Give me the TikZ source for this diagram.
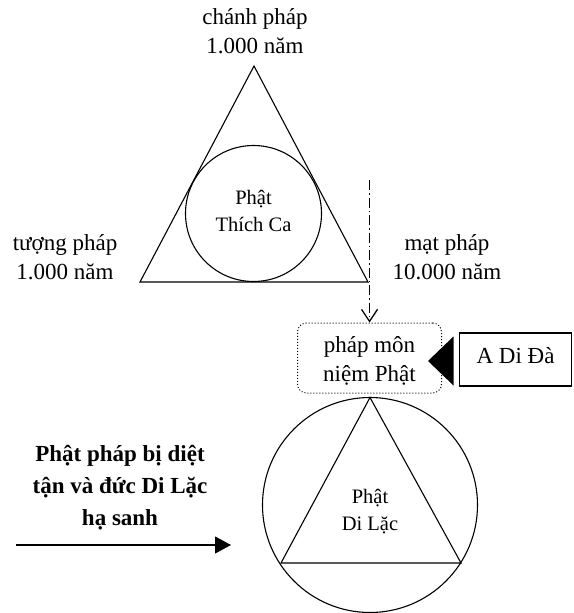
\documentclass[tikz,border=0pt]{standalone}
\usepackage{fontspec}
\setmainfont{Liberation Serif}
\usetikzlibrary{arrows.meta}
\begin{document}
\begin{tikzpicture}[x=1pt,y=-1pt, line width=1.1pt,
  lbl/.style={align=center,font=\fontsize{23}{28.5}\selectfont,inner sep=0pt},
  innerlbl/.style={align=center,font=\fontsize{20.5}{27}\selectfont,inner sep=0pt},
  boldlbl/.style={align=center,font=\fontsize{23}{32}\selectfont\bfseries,inner sep=0pt},
  ring/.style={circle,draw,inner sep=0pt},
  dashdotline/.style={dash pattern=on 10pt off 3pt on 1.5pt off 3pt},
]
\useasboundingbox (0,0) rectangle (573,613);

% upper triangle with inscribed circle
\coordinate (ta) at (254,66);
\coordinate (tb) at (140,282);
\coordinate (tc) at (368,282);
\draw (ta) -- (tb) -- (tc) -- cycle;
\node[ring,minimum size=136pt] (c1) at (253.5,213.5) {};
\node[innerlbl] (t1) at (253.5,211) {Phật\\Thích Ca};

% outer labels
\node[lbl] (l1) at (255,31) {chánh pháp\\1.000 năm};
\node[lbl] (l2) at (65,257) {tượng pháp\\1.000 năm};
\node[lbl] (l3) at (447,257) {mạt pháp\\10.000 năm};

% dotted rounded box
\node[draw,dotted,rounded corners=9pt,minimum width=144pt,minimum height=70pt,line width=1pt] (pm) at (369.5,358) {};
\node[lbl] (pmt) at (369.5,361) {pháp môn\\niệm Phật};
\coordinate (dtop) at (369.5,180);
\draw[dashdotline,-{Straight Barb[length=12pt,width=16pt,line width=1.3pt]}] (dtop) -- (pm.north);

% A Di Da callout
\node[draw,minimum width=112pt,minimum height=53pt,inner sep=0pt] (ad) at (515.5,359.5) {};
\node[lbl] (adt) at (515.5,356) {A Di Đà};
\fill (428,361) -- (453.5,336.5) -- (453.5,385.5) -- cycle;

% lower circle with inscribed triangle
\node[ring,minimum size=215pt] (c2) at (370,505) {};
\coordinate (ua) at (370,397.5);
\coordinate (ub) at (281,563);
\coordinate (uc) at (461,563);
\draw (ua) -- (ub) -- (uc) -- cycle;
\node[innerlbl] (t2) at (370,512) {Phật\\Di Lặc};

% left bold text and arrow
\node[boldlbl] (bt) at (120,488) {Phật pháp bị diệt\\tận và đức Di Lặc\\hạ sanh};
\coordinate (as) at (16,545);
\coordinate (ae) at (231,545);
\draw[-{Triangle[length=16pt,width=17pt]}] (as) -- (ae);
\end{tikzpicture}
\end{document}
